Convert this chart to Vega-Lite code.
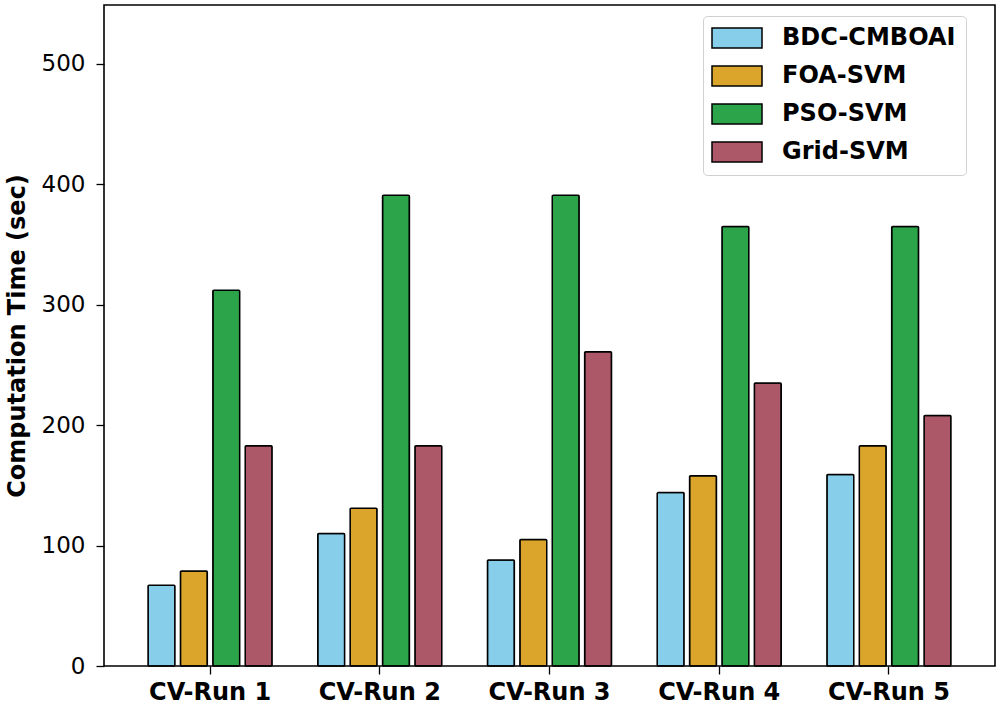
{
  "$schema": "https://vega.github.io/schema/vega-lite/v6.json",
  "width": 891,
  "height": 661,
  "autosize": {"type": "none"},
  "padding": {"left": 104, "top": 5, "right": 5, "bottom": 40},
  "background": "white",
  "config": {
    "font": "DejaVu Sans",
    "view": {"stroke": "black", "strokeWidth": 1.6},
    "axis": {"grid": false, "domain": false, "tickColor": "black", "tickWidth": 1.3, "tickSize": 8, "labelColor": "black", "titleColor": "black"}
  },
  "data": {
    "values": [
      {"run": "CV-Run 1", "method": "BDC-CMBOAI", "time": 67},
      {"run": "CV-Run 1", "method": "FOA-SVM", "time": 79},
      {"run": "CV-Run 1", "method": "PSO-SVM", "time": 312},
      {"run": "CV-Run 1", "method": "Grid-SVM", "time": 183},
      {"run": "CV-Run 2", "method": "BDC-CMBOAI", "time": 110},
      {"run": "CV-Run 2", "method": "FOA-SVM", "time": 131},
      {"run": "CV-Run 2", "method": "PSO-SVM", "time": 391},
      {"run": "CV-Run 2", "method": "Grid-SVM", "time": 183},
      {"run": "CV-Run 3", "method": "BDC-CMBOAI", "time": 88},
      {"run": "CV-Run 3", "method": "FOA-SVM", "time": 105},
      {"run": "CV-Run 3", "method": "PSO-SVM", "time": 391},
      {"run": "CV-Run 3", "method": "Grid-SVM", "time": 261},
      {"run": "CV-Run 4", "method": "BDC-CMBOAI", "time": 144},
      {"run": "CV-Run 4", "method": "FOA-SVM", "time": 158},
      {"run": "CV-Run 4", "method": "PSO-SVM", "time": 365},
      {"run": "CV-Run 4", "method": "Grid-SVM", "time": 235},
      {"run": "CV-Run 5", "method": "BDC-CMBOAI", "time": 159},
      {"run": "CV-Run 5", "method": "FOA-SVM", "time": 183},
      {"run": "CV-Run 5", "method": "PSO-SVM", "time": 365},
      {"run": "CV-Run 5", "method": "Grid-SVM", "time": 208}
    ]
  },
  "mark": {"type": "bar", "stroke": "black", "strokeWidth": 1.5, "cornerRadius": 1},
  "encoding": {
    "x": {
      "field": "run", "type": "nominal", "sort": null,
      "scale": {"paddingInner": 0.25, "paddingOuter": 0.25},
      "axis": {"title": null, "labelAngle": 0, "labelFontSize": 24, "labelFontWeight": "bold", "labelPadding": 6}
    },
    "xOffset": {
      "field": "method", "type": "nominal",
      "sort": ["BDC-CMBOAI", "FOA-SVM", "PSO-SVM", "Grid-SVM"],
      "scale": {"paddingInner": 0.17, "paddingOuter": 0.05}
    },
    "y": {
      "field": "time", "type": "quantitative",
      "scale": {"domain": [0, 549], "nice": false},
      "axis": {"title": "Computation Time (sec)", "titleFontSize": 24, "titleFontWeight": "bold", "titlePadding": 12, "labelFontSize": 23, "labelPadding": 11, "values": [0, 100, 200, 300, 400, 500]}
    },
    "color": {
      "field": "method", "type": "nominal",
      "sort": ["BDC-CMBOAI", "FOA-SVM", "PSO-SVM", "Grid-SVM"],
      "scale": {"domain": ["BDC-CMBOAI", "FOA-SVM", "PSO-SVM", "Grid-SVM"], "range": ["#87CEEB", "#DAA52A", "#2CA44A", "#AD5869"]},
      "legend": {
        "title": null,
        "orient": "none",
        "legendX": 599,
        "legendY": 11,
        "symbolType": "M-1.3,-1H3.7V1H-1.3Z",
        "symbolSize": 400,
        "symbolStrokeColor": "black",
        "symbolStrokeWidth": 1.5,
        "symbolOpacity": 1,
        "labelFontSize": 24,
        "labelFontWeight": "bold",
        "labelColor": "black",
        "labelOffset": 45,
        "labelLimit": 400,
        "rowPadding": 12,
        "padding": 10,
        "strokeColor": "#d0d0d0",
        "fillColor": "white",
        "cornerRadius": 4
      }
    }
  }
}
